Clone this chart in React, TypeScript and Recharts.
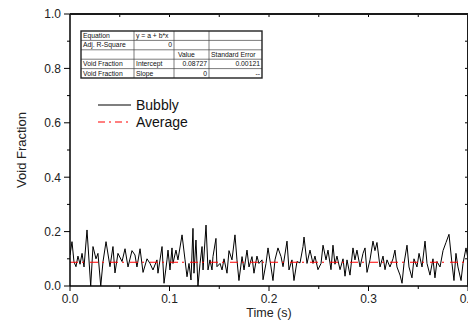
import React from 'react';
import { LineChart, Line, XAxis, YAxis, Legend } from 'recharts';

const FONT = '"Liberation Sans", Arial, Helvetica, sans-serif';
const W = 476;
const H = 328;
const PLOT = { left: 70, top: 14, right: 468, bottom: 286 };
const X_DOMAIN = [0, 0.4];
const Y_DOMAIN = [0, 1];

// Time (s)
const timeS = [
  0, 0.002, 0.004, 0.006, 0.008, 0.0101, 0.0121, 0.0141, 0.0171, 0.0208,
  0.0231, 0.0261, 0.0281, 0.0309, 0.0332, 0.0362, 0.0402, 0.0432, 0.0452, 0.0482,
  0.0523, 0.0553, 0.0583, 0.0623, 0.0653, 0.0673, 0.0704, 0.0734, 0.0774, 0.0804,
  0.0834, 0.0874, 0.0884, 0.0925, 0.0945, 0.0975, 0.0985, 0.1005, 0.1025, 0.1035,
  0.1065, 0.1085, 0.1126, 0.1156, 0.1176, 0.1196, 0.1216, 0.1236, 0.1246, 0.1266,
  0.1286, 0.1307, 0.1327, 0.1337, 0.1367, 0.1387, 0.1407, 0.1427, 0.1437, 0.1467,
  0.1477, 0.1508, 0.1528, 0.1548, 0.1578, 0.1598, 0.1628, 0.1658, 0.1678, 0.1698,
  0.1729, 0.1749, 0.1779, 0.1799, 0.1829, 0.1849, 0.1879, 0.1899, 0.193, 0.194,
  0.197, 0.199, 0.202, 0.204, 0.206, 0.209, 0.2121, 0.2141, 0.2181, 0.2201,
  0.2231, 0.2251, 0.2281, 0.2312, 0.2342, 0.2352, 0.2382, 0.2412, 0.2442, 0.2462,
  0.2492, 0.2523, 0.2543, 0.2573, 0.2593, 0.2623, 0.2643, 0.2663, 0.2683, 0.2714,
  0.2744, 0.2764, 0.2784, 0.2814, 0.2844, 0.2864, 0.2884, 0.2915, 0.2945, 0.2965,
  0.2985, 0.3015, 0.3045, 0.3065, 0.3085, 0.3116, 0.3146, 0.3166, 0.3186, 0.3216,
  0.3246, 0.3266, 0.3286, 0.3317, 0.3337, 0.3357, 0.3387, 0.3407, 0.3437, 0.3457,
  0.3487, 0.3508, 0.3538, 0.3568, 0.3588, 0.3618, 0.3648, 0.3668, 0.3688, 0.3719,
  0.3749, 0.3779, 0.3809, 0.3839, 0.3859, 0.3879, 0.3899, 0.393, 0.395, 0.398,
  0.4,
];

// Void fraction, bubbly flow signal
const bubbly = [
  0.114, 0.163, 0.089, 0.071, 0.11, 0.08, 0.12, 0.07, 0.206, 0.0,
  0.145, 0.1, 0.12, 0.0, 0.09, 0.163, 0.071, 0.145, 0.048, 0.12,
  0.09, 0.137, 0.07, 0.13, 0.114, 0.07, 0.137, 0.05, 0.1, 0.083,
  0.059, 0.096, 0.047, 0.145, 0.01, 0.096, 0.132, 0.059, 0.14, 0.083,
  0.132, 0.096, 0.188, 0.096, 0.034, 0.083, 0.022, 0.212, 0.047, 0.169,
  0.0, 0.083, 0.145, 0.059, 0.224, 0.059, 0.096, 0.059, 0.108, 0.175,
  0.071, 0.083, 0.059, 0.1, 0.047, 0.13, 0.096, 0.188, 0.096, 0.02,
  0.108, 0.059, 0.132, 0.07, 0.108, 0.047, 0.11, 0.083, 0.096, 0.023,
  0.083, 0.14, 0.07, 0.02, 0.096, 0.14, 0.108, 0.071, 0.165, 0.059,
  0.096, 0.02, 0.09, 0.085, 0.145, 0.18, 0.083, 0.132, 0.083, 0.11,
  0.06, 0.083, 0.15, 0.096, 0.132, 0.06, 0.15, 0.08, 0.11, 0.06,
  0.1, 0.036, 0.096, 0.04, 0.14, 0.096, 0.132, 0.07, 0.12, 0.14,
  0.05, 0.096, 0.165, 0.13, 0.16, 0.07, 0.11, 0.06, 0.096, 0.07,
  0.1, 0.132, 0.07, 0.04, 0.01, 0.083, 0.15, 0.07, 0.03, 0.1,
  0.07, 0.12, 0.07, 0.165, 0.083, 0.04, 0.1, 0.03, 0.09, 0.07,
  0.13, 0.16, 0.19, 0.083, 0.02, 0.12, 0.07, 0.02, 0.083, 0.14,
  0.1,
];

const averageValue = 0.08727;

const xTicks = [0, 0.05, 0.1, 0.15, 0.2, 0.25, 0.3, 0.35, 0.4];
const yTicks = [0, 0.1, 0.2, 0.3, 0.4, 0.5, 0.6, 0.7, 0.8, 0.9, 1.0];

const tableRows = [
  ['Equation', 'y = a + b*x', '', ''],
  ['Adj. R-Square', '0', '', ''],
  ['', '', 'Value', 'Standard Error'],
  ['Void Fraction', 'Intercept', '0.08727', '0.00121'],
  ['Void Fraction', 'Slope', '0', '--'],
];
const tableAlign = [
  ['l', 'l', 'l', 'l'],
  ['l', 'r', 'l', 'l'],
  ['l', 'l', 'v', 'l'],
  ['l', 'l', 'r', 'r'],
  ['l', 'l', 'r', 'r'],
];

const seriesOrder = ['Bubbly', 'Average'];

const data = timeS.map((t, i) => ({ t, v: bubbly[i], avg: averageValue }));

const isMajor = (v: number) => Math.abs(v * 10 - Math.round(v * 10)) < 1e-6;
const isEvenMajor = (v: number) => Math.abs(v * 5 - Math.round(v * 5)) < 1e-6;

const BottomTick = (props: any) => {
  const { x, y, payload } = props;
  const v = payload.value as number;
  const major = isMajor(v);
  return (
    <g>
      <line x1={x} x2={x} y1={y} y2={y + (major ? 5 : 3)} stroke="#000" strokeWidth={1} />
      {major && (
        <text x={x} y={y + 17} textAnchor="middle" fontSize={12} fontFamily={FONT} fill="#222">
          {v.toFixed(1)}
        </text>
      )}
    </g>
  );
};

const LeftTick = (props: any) => {
  const { x, y, payload } = props;
  const v = payload.value as number;
  const major = isEvenMajor(v);
  return (
    <g>
      <line x1={x} x2={x - (major ? 6 : 3)} y1={y} y2={y} stroke="#000" strokeWidth={1} />
      {major && (
        <text x={x - 9} y={y + 4.3} textAnchor="end" fontSize={12} fontFamily={FONT} fill="#222">
          {v.toFixed(1)}
        </text>
      )}
    </g>
  );
};

const YTitle = (props: any) => {
  const vb = props.viewBox || { x: 0, y: 14, width: 70, height: 272 };
  const cx = vb.x + 21;
  const cy = vb.y + vb.height / 2;
  return (
    <text x={cx} y={cy} transform={`rotate(-90 ${cx} ${cy})`} textAnchor="middle" dominantBaseline="central"
      fontSize={13} fontFamily={FONT} fill="#222">
      Void Fraction
    </text>
  );
};

const XTitle = (props: any) => {
  const vb = props.viewBox || { x: 70, y: 286, width: 398, height: 42 };
  return (
    <text x={vb.x + vb.width / 2} y={vb.y + 30.5} textAnchor="middle" fontSize={12.5} fontFamily={FONT} fill="#222">
      Time (s)
    </text>
  );
};

const LegendBox = (props: any) => {
  const payload = [...(props.payload || [])]
    .filter((e: any) => seriesOrder.includes(e.value))
    .sort((a: any, b: any) => seriesOrder.indexOf(a.value) - seriesOrder.indexOf(b.value));
  return (
    <svg width={140} height={44} style={{ display: 'block' }}>
      {payload.map((entry: any, i: number) => {
        const y = 10 + i * 17;
        const isAvg = entry.value === 'Average';
        return (
          <g key={i}>
            <line x1={8} x2={41} y1={y} y2={y} stroke={isAvg ? '#ff0000' : '#000'} strokeWidth={1.2}
              strokeDasharray={isAvg ? '7 4 2 4' : undefined} />
            <text x={46} y={y + 5} fontSize={14} fontFamily={FONT} fill="#111">{entry.value}</text>
          </g>
        );
      })}
    </svg>
  );
};

const sx = (v: number) => PLOT.left + ((v - X_DOMAIN[0]) / (X_DOMAIN[1] - X_DOMAIN[0])) * (PLOT.right - PLOT.left);
const sy = (v: number) => PLOT.bottom - ((v - Y_DOMAIN[0]) / (Y_DOMAIN[1] - Y_DOMAIN[0])) * (PLOT.bottom - PLOT.top);

const Overlay = () => {
  const left = 81;
  const top = 31;
  const colX = [81, 134, 174, 209, 262];
  const rowH = 9.4;
  const rows = tableRows.length;
  const bottom = top + rowH * rows;
  return (
    <svg width={W} height={H} viewBox={`0 0 ${W} ${H}`}
      style={{ position: 'absolute', left: 0, top: 0, pointerEvents: 'none', zIndex: 5, overflow: 'visible' }}>
      <path d={`M${PLOT.left},${PLOT.top} L${PLOT.right},${PLOT.top} L${PLOT.right},${PLOT.bottom}`}
        fill="none" stroke="#1a1a1a" strokeWidth={2} />
      {xTicks.slice(1, -1).map((t) => (
        <line key={'tx' + t} x1={sx(t)} x2={sx(t)} y1={PLOT.top} y2={PLOT.top + 3} stroke="#000" strokeWidth={1} />
      ))}
      {yTicks.slice(1, -1).map((t) => (
        <line key={'ty' + t} x1={PLOT.right} x2={PLOT.right - 3} y1={sy(t)} y2={sy(t)} stroke="#000" strokeWidth={1} />
      ))}
      <rect x={left} y={top} width={colX[4] - left} height={bottom - top} fill="#fff" stroke="none" />
      {tableRows.map((_, r) => (
        r > 0 ? <line key={'h' + r} x1={left} x2={colX[4]} y1={top + r * rowH} y2={top + r * rowH} stroke="#444" strokeWidth={0.7} /> : null
      ))}
      {colX.slice(1, 4).map((cx, c) => (
        <line key={'v' + c} x1={cx} x2={cx} y1={top} y2={bottom} stroke="#444" strokeWidth={0.7} />
      ))}
      <rect x={left} y={top} width={colX[4] - left} height={bottom - top} fill="none" stroke="#222" strokeWidth={1.4} />
      {tableRows.map((row, r) =>
        row.map((cell, c) => {
          if (!cell) return null;
          const a = tableAlign[r][c];
          const x0 = colX[c];
          const x1 = colX[c + 1];
          const tx = a === 'r' ? x1 - 2 : a === 'v' ? x0 + 4 : x0 + 2;
          return (
            <text key={r + '-' + c} x={tx} y={top + r * rowH + 7} fontSize={6.8} fontFamily={FONT}
              textAnchor={a === 'r' ? 'end' : 'start'} fill="#111">
              {cell}
            </text>
          );
        })
      )}
    </svg>
  );
};

export default function App() {
  return (
    <div style={{ position: 'relative', width: W, height: H, margin: -8, overflow: 'hidden' }}>
      <LineChart width={W} height={H} data={data}
        margin={{ top: PLOT.top, right: W - PLOT.right, bottom: 0, left: 0 }}>
        <XAxis xAxisId="b" dataKey="t" type="number" domain={X_DOMAIN} ticks={xTicks} interval={0}
          allowDataOverflow height={H - PLOT.bottom} tickSize={0} tickMargin={0} tickLine={false} tick={<BottomTick />}
          axisLine={{ stroke: '#000', strokeWidth: 1.5 }} label={<XTitle />} />
        <YAxis yAxisId="l" type="number" domain={Y_DOMAIN} ticks={yTicks} interval={0} allowDataOverflow
          width={PLOT.left} tickSize={0} tickMargin={0} tickLine={false} tick={<LeftTick />}
          axisLine={{ stroke: '#000', strokeWidth: 1.5 }} label={<YTitle />} />
        <Line xAxisId="b" yAxisId="l" type="linear" dataKey="v" name="Bubbly" stroke="#000" strokeWidth={1}
          dot={false} activeDot={false} isAnimationActive={false} />
        <Line xAxisId="b" yAxisId="l" type="linear" dataKey="avg" name="Average" stroke="#ff0000" strokeWidth={1.2}
          strokeDasharray="8 4 2 6" dot={false} activeDot={false} isAnimationActive={false} />
        <Legend layout="horizontal" verticalAlign="middle" align="center"
          wrapperStyle={{ left: 90, top: 95, width: 140, height: 44 }} content={<LegendBox />} />
      </LineChart>
      <Overlay />
      <div style={{
        position: 'absolute', left: PLOT.left, top: PLOT.top - 1, width: PLOT.right - PLOT.left + 1,
        height: PLOT.bottom - PLOT.top + 1, borderTop: '2px solid #1a1a1a', borderRight: '2px solid #1a1a1a',
        boxSizing: 'border-box', pointerEvents: 'none', zIndex: 6,
      }} />
    </div>
  );
}
